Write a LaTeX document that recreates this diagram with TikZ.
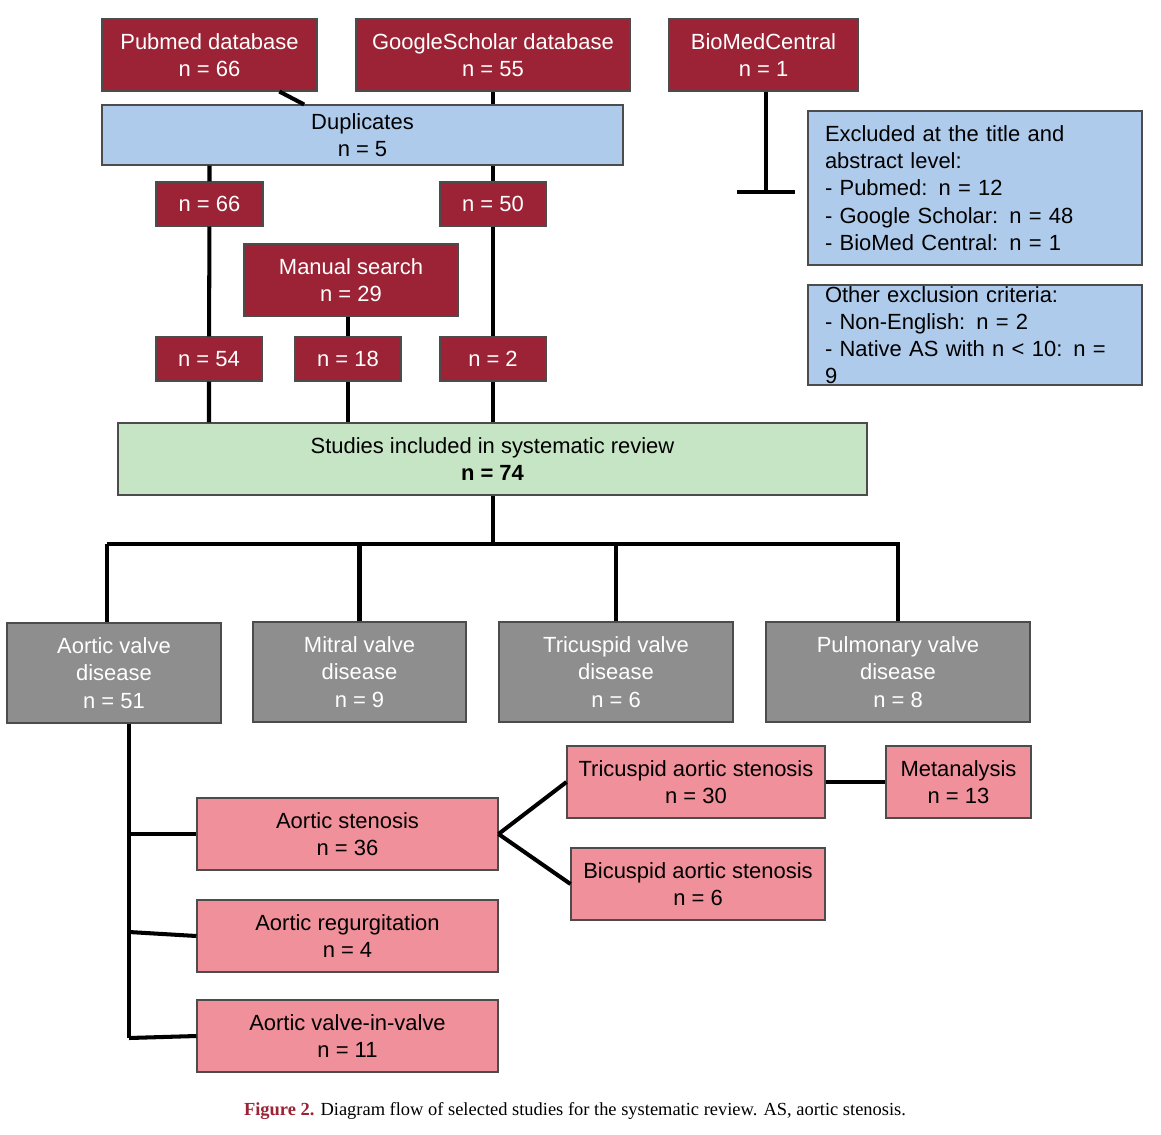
\documentclass[tikz,border=0pt]{standalone}
\usepackage{fontspec}
\setmainfont{Liberation Sans}
\newfontfamily\capfont{Liberation Serif}
\usetikzlibrary{positioning}
\definecolor{dbred}{HTML}{9B2335}
\definecolor{lblue}{HTML}{AFCBEB}
\definecolor{lgreen}{HTML}{C6E5C4}
\definecolor{dgray}{HTML}{8E8E8E}
\definecolor{lpink}{HTML}{F0909A}
\tikzset{
  box/.style={draw=black!70, line width=0.6pt, align=center, inner sep=0pt, font=\fontsize{12.5}{15.5}\selectfont},
  src/.style={box, fill=dbred, text=white},
  info/.style={box, fill=lblue},
  grp/.style={box, fill=dgray, text=white},
  sub/.style={box, fill=lpink},
  link/.style={line width=2.3pt}
}
\begin{document}
\begin{tikzpicture}[x=0.02cm, y=-0.02cm]
	\useasboundingbox (0,0) rectangle (1161,1134);
	% sources
	\node[src, minimum width=215*0.02cm, minimum height=72*0.02cm] (pm) at (209.5,55) {Pubmed database\\n = 66};
	\node[src, minimum width=274*0.02cm, minimum height=72*0.02cm] (gs) at (493,55) {GoogleScholar database\\n = 55};
	\node[src, minimum width=189*0.02cm, minimum height=72*0.02cm] (bmc) at (763.5,55) {BioMedCentral\\n = 1};
	\node[info, minimum width=521*0.02cm, minimum height=60*0.02cm] (dup) at (362.5,135) {Duplicates\\n = 5};
	\node[src, minimum width=107*0.02cm, minimum height=44*0.02cm] (n66) at (209.5,204) {n = 66};
	\node[src, minimum width=106*0.02cm, minimum height=44*0.02cm] (n50) at (493,204) {n = 50};
	\node[src, minimum width=214*0.02cm, minimum height=72*0.02cm] (man) at (351,280) {Manual search\\n = 29};
	\node[src, minimum width=106*0.02cm, minimum height=44*0.02cm] (n54) at (209,359) {n = 54};
	\node[src, minimum width=106*0.02cm, minimum height=44*0.02cm] (n18) at (348,359) {n = 18};
	\node[src, minimum width=106*0.02cm, minimum height=44*0.02cm] (n2) at (493,359) {n = 2};
	\node[box, fill=lgreen, minimum width=749*0.02cm, minimum height=72*0.02cm] (inc) at (492.5,459) {Studies included in systematic review\\\textbf{n = 74}};
	% exclusions
	\node[info, align=left, text width=300*0.02cm, minimum width=334*0.02cm, minimum height=154*0.02cm] (exc) at (975,188) {Excluded at the title and\\abstract level:\\- Pubmed: n = 12\\- Google Scholar: n = 48\\- BioMed Central: n = 1};
	\node[info, align=left, text width=300*0.02cm, minimum width=334*0.02cm, minimum height=100*0.02cm] (oth) at (975,335) {Other exclusion criteria:\\- Non-English: n = 2\\- Native AS with n \textless{} 10: n = 9};
	\coordinate (tb) at (766,192);
	\coordinate (tl) at (737,192);
	\coordinate (tr) at (795,192);
	% valves
	\node[grp, minimum width=214*0.02cm, minimum height=100*0.02cm] (aov) at (114,673) {Aortic valve\\disease\\n = 51};
	\node[grp, minimum width=213*0.02cm, minimum height=100*0.02cm] (miv) at (359.5,672) {Mitral valve\\disease\\n = 9};
	\node[grp, minimum width=234*0.02cm, minimum height=100*0.02cm] (trv) at (616,672) {Tricuspid valve\\disease\\n = 6};
	\node[grp, minimum width=264*0.02cm, minimum height=100*0.02cm] (puv) at (898,672) {Pulmonary valve\\disease\\n = 8};
	\coordinate (hub) at (493,544);
	% aortic subgroups
	\node[sub, minimum width=301*0.02cm, minimum height=72*0.02cm] (as) at (347.5,834) {Aortic stenosis\\n = 36};
	\node[sub, minimum width=301*0.02cm, minimum height=72*0.02cm] (ar) at (347.5,936) {Aortic regurgitation\\n = 4};
	\node[sub, minimum width=301*0.02cm, minimum height=72*0.02cm] (avv) at (347.5,1036) {Aortic valve-in-valve\\n = 11};
	\node[sub, minimum width=258*0.02cm, minimum height=72*0.02cm] (tas) at (696,782) {Tricuspid aortic stenosis\\n = 30};
	\node[sub, minimum width=254*0.02cm, minimum height=72*0.02cm] (bas) at (698,884) {Bicuspid aortic stenosis\\n = 6};
	\node[sub, minimum width=145*0.02cm, minimum height=72*0.02cm] (met) at (958.5,782) {Metanalysis\\n = 13};
	\node[font=\capfont\fontsize{10.5}{12}\selectfont] (cap) at (575,1111) {\textcolor{dbred}{\textbf{Figure 2.}} Diagram flow of selected studies for the systematic review. AS, aortic stenosis.};

	\begin{scope}[link]
		\draw (pm) -- (dup) (dup.south -| n66) -- (n66) -- (n54) -- (inc.north -| n54);
		\draw (gs) -- (dup.north -| gs) (dup.south -| n50) -- (n50) -- (n2) -- (inc.north -| n2);
		\draw (man.south -| n18) -- (n18) -- (inc.north -| n18);
		\draw (bmc.south -| tb) -- (tb) (tl) -- (tr);
		\draw (inc.south -| hub) -- (hub);
		\draw (hub -| aov.north west) ++(101,0) coordinate (h1) -- (hub -| puv) -- (puv);
		\draw (h1) -- (h1 |- aov.north);
		\draw (hub -| miv) -- (miv);
		\draw (hub -| trv) -- (trv);
		\draw (aov.south -| 129,0) -- (129,1038) coordinate (v3);
		\draw (129,834) -- (as.west);
		\draw (129,932) -- (ar.west);
		\draw (v3) -- (avv.west);
		\draw (as.east) -- (tas.west);
		\draw (as.east) -- (bas.west);
		\draw (tas) -- (met);
	\end{scope}
\end{tikzpicture}
\end{document}
